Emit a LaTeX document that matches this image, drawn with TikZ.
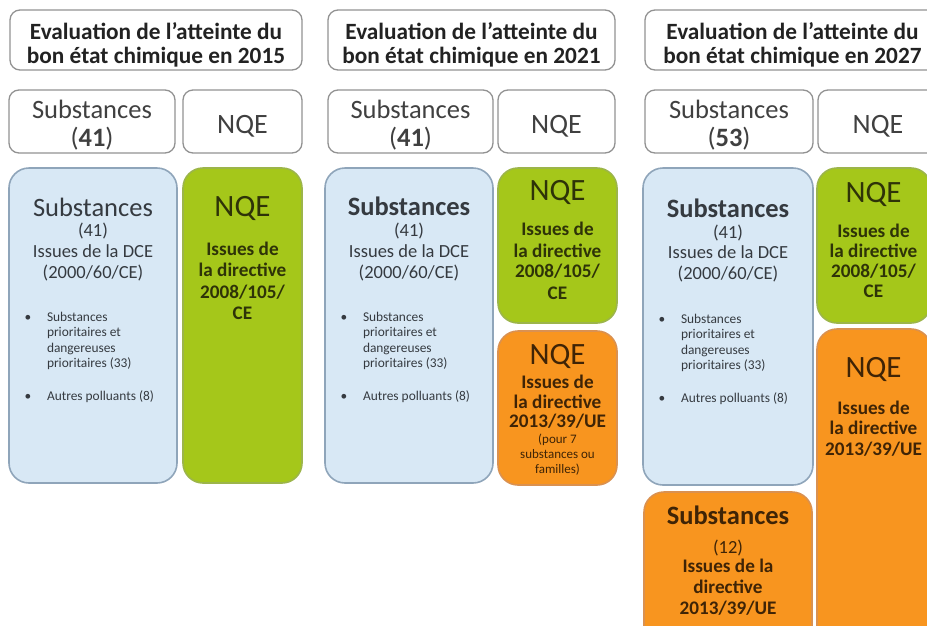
\documentclass[tikz,border=0pt]{standalone}
\usepackage{fontspec}
\setmainfont{Carlito}
\definecolor{framegray}{HTML}{929292}
\definecolor{titletext}{HTML}{222222}
\definecolor{hdrtext}{HTML}{404040}
\definecolor{bluefill}{HTML}{D8E8F5}
\definecolor{blueedge}{HTML}{8FA5BA}
\definecolor{bluetext}{HTML}{353A40}
\definecolor{greenfill}{HTML}{A5C71A}
\definecolor{greenedge}{HTML}{9CB54A}
\definecolor{greentext}{HTML}{2E3308}
\definecolor{orangefill}{HTML}{F8951F}
\definecolor{orangeedge}{HTML}{DA9150}
\definecolor{orangetext}{HTML}{3F2406}
\newcommand\boxnode[6]{\node[#1, minimum width={#5-#3}, minimum height={#6-#4}] (#2) at ({(#3+#5)/2},{(#4+#6)/2}) {};}
\tikzset{
  every node/.style={inner sep=0pt, outer sep=0pt},
  framebox/.style={draw=framegray, line width=1.3pt, fill=white, rounded corners=10pt},
  bbox/.style={draw=blueedge, fill=bluefill, line width=1.6pt, rounded corners=20pt},
  gbox/.style={draw=greenedge, fill=greenfill, line width=1.6pt, rounded corners=20pt},
  obox/.style={draw=orangeedge, fill=orangefill, line width=1.6pt, rounded corners=20pt},
  ttl/.style={anchor=base, text=titletext, font=\fontsize{23.3}{24}\selectfont\bfseries},
  hdr/.style={anchor=base, text=hdrtext, font=\fontsize{26.5}{28}\selectfont},
  hnqe/.style={anchor=base, text=hdrtext, font=\fontsize{28}{29}\selectfont},
  tbig/.style={anchor=base, font=\fontsize{26.5}{28}\selectfont},
  tnqe/.style={anchor=base, font=\fontsize{31}{32}\selectfont},
  tmed/.style={anchor=base, font=\fontsize{18.5}{20}\selectfont},
  tdir/.style={anchor=base, font=\fontsize{19.2}{21}\selectfont\bfseries},
  tsml/.style={anchor=base west, font=\fontsize{13.4}{15}\selectfont},
  tbul/.style={anchor=base, font=\fontsize{13.4}{15}\selectfont},
  tsmc/.style={anchor=base, font=\fontsize{13}{15}\selectfont},
}
\begin{document}
\begin{tikzpicture}[x=1pt,y=-1pt]
\useasboundingbox (0,0) rectangle (927,625);
\fill[white] (0,0) rectangle (927,625);
\clip (0,0) rectangle (927,625);

% ---------------- column 1 (2015)
\boxnode{framebox}{T1}{10}{10}{302}{70}
\node[ttl] (T1a) at (156,39.5) {Evaluation de l’atteinte du};
\node[ttl] (T1b) at (156,63) {bon état chimique en 2015};
\boxnode{framebox}{S1}{9}{90}{175}{153}
\node[hdr] (S1a) at (92,118) {Substances};
\node[hdr] (S1b) at (92,146) {(\textbf{41})};
\boxnode{framebox}{N1}{183}{90}{302}{153}
\node[hnqe] (N1a) at (242.5,133) {NQE};
\boxnode{bbox}{B1}{9}{168}{177}{483}
\begin{scope}[every node/.append style={text=bluetext}]
\node[tbig] (B1a) at (93,216) {Substances};
\node[tmed] (B1b) at (93,236) {(41)};
\node[tmed] (B1c) at (93,257) {Issues de la DCE};
\node[tmed] (B1d) at (93,278) {(2000/60/CE)};
\node[tbul] (B1e) at (28,321) {•};
\node[tsml] (B1f) at (47,321) {Substances};
\node[tsml] (B1g) at (47,336) {prioritaires et};
\node[tsml] (B1h) at (47,352) {dangereuses};
\node[tsml] (B1i) at (47,367) {prioritaires (33)};
\node[tbul] (B1j) at (28,400) {•};
\node[tsml] (B1k) at (47,400) {Autres polluants (8)};
\end{scope}
\boxnode{gbox}{G1}{183}{168}{302}{483}
\begin{scope}[every node/.append style={text=greentext}]
\node[tnqe] (G1a) at (242.5,216) {NQE};
\node[tdir] (G1b) at (242.5,255) {Issues de};
\node[tdir] (G1c) at (242.5,276) {la directive};
\node[tdir] (G1d) at (242.5,298) {2008/105/};
\node[tdir] (G1e) at (242.5,319) {CE};
\end{scope}

% ---------------- column 2 (2021)
\boxnode{framebox}{T2}{328}{10}{615}{70}
\node[ttl] (T2a) at (471.5,39.5) {Evaluation de l’atteinte du};
\node[ttl] (T2b) at (471.5,63) {bon état chimique en 2021};
\boxnode{framebox}{S2}{328}{90}{493}{153}
\node[hdr] (S2a) at (410.5,118) {Substances};
\node[hdr] (S2b) at (410.5,146) {(\textbf{41})};
\boxnode{framebox}{N2}{498}{90}{615}{153}
\node[hnqe] (N2a) at (556.5,133) {NQE};
\boxnode{bbox}{B2}{325}{168}{493}{483}
\begin{scope}[every node/.append style={text=bluetext}]
\node[tbig] (B2a) at (409,215) {\bfseries Substances};
\node[tmed] (B2b) at (409,236) {(41)};
\node[tmed] (B2c) at (409,257) {Issues de la DCE};
\node[tmed] (B2d) at (409,278) {(2000/60/CE)};
\node[tbul] (B2e) at (344,321) {•};
\node[tsml] (B2f) at (363,321) {Substances};
\node[tsml] (B2g) at (363,336) {prioritaires et};
\node[tsml] (B2h) at (363,352) {dangereuses};
\node[tsml] (B2i) at (363,367) {prioritaires (33)};
\node[tbul] (B2j) at (344,400) {•};
\node[tsml] (B2k) at (363,400) {Autres polluants (8)};
\end{scope}
\boxnode{gbox}{G2}{498}{168}{617}{323}
\begin{scope}[every node/.append style={text=greentext}]
\node[tnqe] (G2a) at (557.5,200) {NQE};
\node[tdir] (G2b) at (557.5,235) {Issues de};
\node[tdir] (G2c) at (557.5,257) {la directive};
\node[tdir] (G2d) at (557.5,277) {2008/105/};
\node[tdir] (G2e) at (557.5,299) {CE};
\end{scope}
\boxnode{obox}{O2}{498}{331}{617}{485}
\begin{scope}[every node/.append style={text=orangetext}]
\node[tnqe] (O2a) at (557.5,364) {NQE};
\node[tdir] (O2b) at (557.5,388) {Issues de};
\node[tdir] (O2c) at (557.5,408) {la directive};
\node[tdir] (O2d) at (557.5,427) {2013/39/UE};
\node[tsmc] (O2e) at (557.5,443) {(pour 7};
\node[tsmc] (O2f) at (557.5,458) {substances ou};
\node[tsmc] (O2g) at (557.5,473) {familles)};
\end{scope}

% ---------------- column 3 (2027)
\boxnode{framebox}{T3}{645}{10}{940}{70}
\node[ttl] (T3a) at (792.5,39.5) {Evaluation de l’atteinte du};
\node[ttl] (T3b) at (792.5,63) {bon état chimique en 2027};
\boxnode{framebox}{S3}{645}{90}{813}{153}
\node[hdr] (S3a) at (729,118) {Substances};
\node[hdr] (S3b) at (729,146) {(\textbf{53})};
\boxnode{framebox}{N3}{818}{90}{938}{153}
\node[hnqe] (N3a) at (878,133) {NQE};
\boxnode{bbox}{B3}{643}{168}{813}{485}
\begin{scope}[every node/.append style={text=bluetext}]
\node[tbig] (B3a) at (728,217) {\bfseries Substances};
\node[tmed] (B3b) at (728,238) {(41)};
\node[tmed] (B3c) at (728,258) {Issues de la DCE};
\node[tmed] (B3d) at (728,279) {(2000/60/CE)};
\node[tbul] (B3e) at (662,323) {•};
\node[tsml] (B3f) at (681,323) {Substances};
\node[tsml] (B3g) at (681,338) {prioritaires et};
\node[tsml] (B3h) at (681,354) {dangereuses};
\node[tsml] (B3i) at (681,369) {prioritaires (33)};
\node[tbul] (B3j) at (662,402) {•};
\node[tsml] (B3k) at (681,402) {Autres polluants (8)};
\end{scope}
\boxnode{gbox}{G3}{817}{168}{931}{323}
\begin{scope}[every node/.append style={text=greentext}]
\node[tnqe] (G3a) at (873.5,202) {NQE};
\node[tdir] (G3b) at (873.5,237) {Issues de};
\node[tdir] (G3c) at (873.5,257) {la directive};
\node[tdir] (G3d) at (873.5,277) {2008/105/};
\node[tdir] (G3e) at (873.5,297) {CE};
\end{scope}
\boxnode{obox}{O3}{817}{329}{931}{680}
\begin{scope}[every node/.append style={text=orangetext}]
\node[tnqe] (O3a) at (873.5,377) {NQE};
\node[tdir] (O3b) at (873.5,414) {Issues de};
\node[tdir] (O3c) at (873.5,434) {la directive};
\node[tdir] (O3d) at (873.5,455) {2013/39/UE};
\end{scope}
\boxnode{obox}{P3}{644}{492}{812}{680}
\begin{scope}[every node/.append style={text=orangetext}]
\node[tbig] (P3a) at (728,524) {\bfseries Substances};
\node[tmed] (P3b) at (728,553) {(12)};
\node[tdir] (P3c) at (728,572) {Issues de la};
\node[tdir] (P3d) at (728,593) {directive};
\node[tdir] (P3e) at (728,614) {2013/39/UE};
\end{scope}
\end{tikzpicture}
\end{document}
